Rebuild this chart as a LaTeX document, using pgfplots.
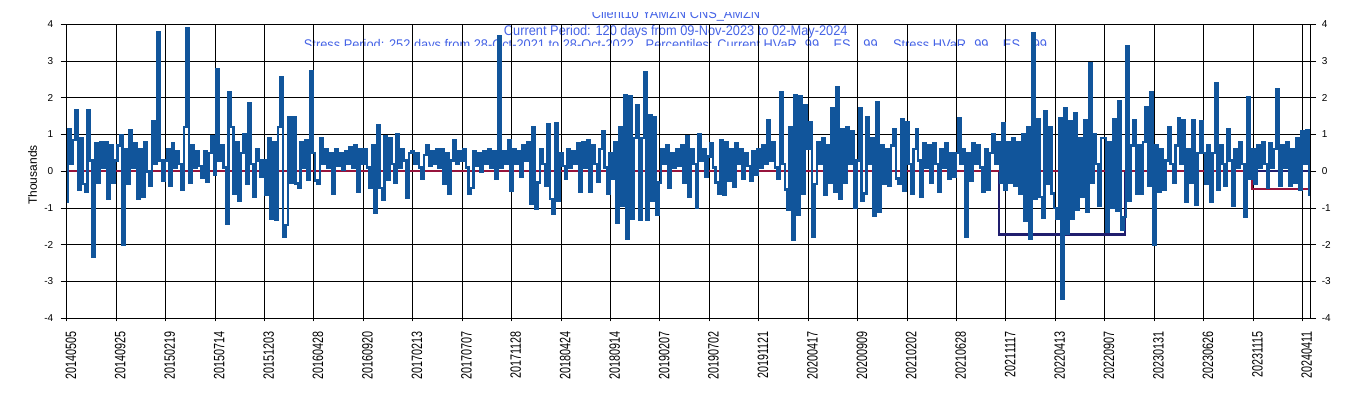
\documentclass[border=0pt]{standalone}
\usepackage{fontspec}
\setmainfont{Liberation Sans}
\usepackage{graphicx}
\usepackage{pgfplots}
\usepackage{pgfplotstable}
\usetikzlibrary{calc}
\pgfplotsset{compat=1.18}
\pgfdeclarelayer{bg}
\pgfsetlayers{bg,main}
\definecolor{pnlblue}{RGB}{17,85,155}
\definecolor{hvarred}{RGB}{150,20,60}
\definecolor{hvarnavy}{RGB}{32,30,110}
\definecolor{titleblue}{RGB}{70,100,230}
\newcommand{\xl}[1]{\scalebox{0.72}[1]{#1}}
\newcommand{\tf}{\fontsize{14}{16}\selectfont}

\pgfplotstableread[header=false,row sep=\\]{
-0.83\\ 1.15\\ 0.2\\ 0.85\\ 1.66\\ -0.49\\ 0.9\\ -0.35\\ -0.55\\ 1.66\\ 0.3\\ -2.32\\ 0.75\\ -0.3\\ 0.8\\ 0.1\\ 0.78\\ -0.76\\ 0.7\\ -0.3\\
0.3\\ 0.7\\ 0.98\\ -1.99\\ 0.6\\ -0.33\\ 1.13\\ 0.1\\ 0.75\\ -0.75\\ 0.6\\ -0.7\\ 0.78\\ 0.0\\ -0.38\\ 1.36\\ 0.2\\ 3.79\\ 0.3\\ -0.25\\
0.3\\ 0.6\\ -0.4\\ 0.75\\ 0.1\\ 0.55\\ 0.2\\ -0.5\\ 1.2\\ 3.9\\ -0.32\\ 0.7\\ 0.1\\ 0.55\\ 0.15\\ -0.17\\ 0.55\\ -0.28\\ 0.5\\ 0.95\\
-0.1\\ 2.77\\ 0.3\\ 0.7\\ 0.1\\ -1.42\\ 2.15\\ 1.2\\ -0.6\\ 0.8\\ -0.79\\ 0.5\\ 1.0\\ -0.33\\ 1.84\\ 0.2\\ -0.7\\ 0.6\\ 0.3\\ -0.15\\
0.3\\ -0.65\\ 0.9\\ -1.3\\ 0.8\\ -1.32\\ 1.2\\ 2.55\\ -1.79\\ -1.46\\ 1.46\\ -0.3\\ 1.48\\ -0.33\\ -0.45\\ 0.8\\ 0.1\\ 0.85\\ -0.23\\ 2.72\\
0.5\\ -0.25\\ -0.35\\ 0.9\\ 0.2\\ 0.6\\ 0.1\\ 0.5\\ -0.6\\ 0.6\\ 0.15\\ 0.5\\ 0.05\\ 0.55\\ 0.2\\ 0.65\\ 0.1\\ 0.7\\ -0.57\\ 0.6\\
0.2\\ 0.6\\ 0.1\\ -0.45\\ 0.7\\ -1.13\\ 1.25\\ -0.45\\ -0.78\\ 0.95\\ -0.22\\ 0.9\\ 0.2\\ -0.3\\ 1.0\\ 0.1\\ 0.6\\ 0.3\\ -0.72\\ 0.5\\
0.55\\ 0.2\\ 0.5\\ 0.1\\ -0.2\\ 0.45\\ 0.7\\ 0.15\\ 0.55\\ 0.2\\ 0.6\\ 0.1\\ 0.6\\ -0.35\\ 0.5\\ -0.61\\ 0.3\\ 0.84\\ 0.2\\ 0.55\\
0.3\\ 0.6\\ 0.1\\ -0.6\\ -0.45\\ 0.55\\ 0.15\\ 0.5\\ 0.0\\ 0.55\\ 0.2\\ 0.6\\ 0.1\\ 0.55\\ -0.2\\ 3.67\\ 0.1\\ 0.55\\ 0.2\\ 0.85\\
-0.52\\ 0.6\\ 0.2\\ 0.55\\ -0.15\\ 0.7\\ 0.3\\ 0.8\\ -0.88\\ 1.2\\ -1.02\\ -0.3\\ 0.6\\ 0.2\\ -0.4\\ 1.29\\ -0.75\\ -1.15\\ 1.3\\ -0.79\\
0.5\\ 0.15\\ -0.2\\ 0.6\\ 0.1\\ 0.55\\ 0.2\\ 0.75\\ -0.55\\ 0.8\\ 0.1\\ 0.85\\ -0.55\\ 0.7\\ 0.2\\ -0.28\\ 0.6\\ 1.09\\ 0.1\\ -0.6\\
0.5\\ -0.2\\ 0.8\\ -1.41\\ 1.2\\ -0.95\\ 2.07\\ -1.83\\ 2.03\\ -1.3\\ 0.9\\ 1.79\\ -1.31\\ 0.9\\ 2.69\\ -1.32\\ 1.52\\ -0.8\\ 1.48\\ -1.18\\
-0.3\\ 0.6\\ 0.2\\ 0.7\\ -0.45\\ 0.5\\ 0.1\\ 0.6\\ 0.15\\ 0.7\\ -0.3\\ 0.95\\ -0.7\\ 0.6\\ 0.2\\ -1.0\\ 1.0\\ 0.3\\ 0.6\\ -0.15\\
0.4\\ 0.75\\ 0.1\\ -0.3\\ -0.6\\ 0.85\\ -0.65\\ 0.8\\ -0.25\\ 0.6\\ -0.42\\ 0.75\\ 0.2\\ 0.6\\ -0.2\\ 0.5\\ 0.15\\ -0.25\\ 0.55\\ -0.1\\
0.6\\ 0.1\\ 0.7\\ 0.2\\ 1.39\\ 0.3\\ 0.8\\ 0.1\\ -0.2\\ 2.16\\ 0.2\\ -0.5\\ -1.04\\ 1.2\\ -1.86\\ 2.07\\ -1.18\\ 2.03\\ -0.6\\ 1.81\\
0.6\\ 1.34\\ -1.79\\ -0.35\\ 0.8\\ 0.2\\ 0.9\\ -0.65\\ 0.7\\ -0.3\\ 1.72\\ -0.55\\ 2.29\\ -0.75\\ 1.15\\ -0.3\\ 1.2\\ 0.2\\ 1.1\\ -0.99\\
0.3\\ 1.72\\ -0.8\\ -0.6\\ 1.47\\ 0.2\\ 0.9\\ -1.21\\ 1.89\\ -1.1\\ 0.7\\ -0.35\\ 0.6\\ -0.38\\ 0.7\\ 1.15\\ -0.2\\ -0.35\\ 1.41\\ -0.53\\
1.34\\ 0.2\\ -0.62\\ 0.6\\ 1.15\\ 0.3\\ -0.7\\ 0.75\\ 0.1\\ 0.7\\ -0.3\\ 0.75\\ 0.2\\ -0.55\\ 0.6\\ 0.1\\ 0.75\\ -0.2\\ 0.5\\ -0.15\\
0.5\\ 1.45\\ 0.2\\ 0.6\\ -1.79\\ 0.5\\ -0.25\\ 0.75\\ 0.2\\ 0.7\\ 0.1\\ -0.55\\ 0.6\\ -0.5\\ 0.5\\ 1.0\\ 0.2\\ 0.8\\ -0.3\\ 1.32\\
-0.5\\ 0.8\\ -0.3\\ 0.9\\ -0.4\\ 0.8\\ -0.6\\ 1.0\\ -1.35\\ 1.2\\ -1.83\\ 3.75\\ -0.75\\ 1.41\\ -0.7\\ -1.27\\ 1.63\\ -0.35\\ 1.2\\ -0.6\\
-1.0\\ -1.3\\ 1.45\\ -3.46\\ 1.72\\ -1.7\\ 1.37\\ -1.3\\ 1.57\\ -1.05\\ 0.9\\ -0.7\\ 1.4\\ -1.1\\ 2.95\\ -0.3\\ 1.0\\ 0.2\\ -0.95\\ 0.9\\
0.9\\ -1.65\\ 0.8\\ -1.0\\ 1.41\\ -1.08\\ 1.9\\ -1.58\\ -1.25\\ 3.4\\ -0.8\\ 0.7\\ 1.4\\ -0.6\\ 0.7\\ -0.6\\ 0.8\\ 1.75\\ -0.4\\ 2.16\\
-2.01\\ 0.7\\ -0.55\\ 0.6\\ -0.5\\ 0.3\\ 1.2\\ 0.2\\ -0.3\\ 0.7\\ 1.43\\ 0.2\\ 1.4\\ -0.83\\ 0.6\\ -0.3\\ 1.4\\ -0.92\\ 0.5\\ 1.35\\
0.5\\ -0.35\\ 0.7\\ -0.82\\ 0.5\\ 2.4\\ -0.5\\ 0.7\\ 0.2\\ -0.4\\ 1.15\\ 0.3\\ -0.93\\ 0.6\\ 0.1\\ 0.8\\ 0.2\\ -1.24\\ 2.01\\ -0.2\\
0.6\\ -0.35\\ 0.7\\ 0.1\\ 0.8\\ 0.2\\ -0.45\\ 0.75\\ 0.1\\ 0.6\\ 2.23\\ -0.4\\ 0.7\\ 0.1\\ 0.8\\ -0.38\\ 0.6\\ -0.3\\ 0.9\\ -0.5\\
1.1\\ 0.2\\ 1.12\\ -0.65\\
}\pnl

\begin{document}
\begin{tikzpicture}
\begin{axis}[
  name=main,
  scale only axis, width=1243.3pt, height=294pt,
  xmin=0, xmax=2515, ymin=-4, ymax=4,
  xtick={0,100,...,2500},
  xticklabels={\xl{20140505},\xl{20140925},\xl{20150219},\xl{20150714},\xl{20151203},\xl{20160428},\xl{20160920},\xl{20170213},\xl{20170707},\xl{20171128},\xl{20180424},\xl{20180914},\xl{20190207},\xl{20190702},\xl{20191121},\xl{20200417},\xl{20200909},\xl{20210202},\xl{20210628},\xl{20211117},\xl{20220413},\xl{20220907},\xl{20230131},\xl{20230626},\xl{20231115},\xl{20240411}},
  ytick={-4,-3,...,4},
  xtick pos=lower, ytick pos=left,
  tick align=outside,
  major tick length=6pt,
  xtick style={/pgfplots/major tick length=3pt},
  grid=major,
  major grid style={black, line width=1pt},
  axis line style={black, line width=1pt},
  every tick/.style={black, line width=1pt},
  /pgf/number format/assume math mode=true,
  tick label style={font=\fontsize{10}{12}\selectfont},
  xticklabel style={font=\fontsize{15}{16}\selectfont, inner sep=0pt, xshift=4.2pt, yshift=-7pt, rotate=90, anchor=east},
  yticklabel style={inner sep=0pt, anchor=east, xshift=-7.2pt},
]
\coordinate (SW) at (rel axis cs:0,0);
\addplot[hvarnavy, line width=2.2pt] coordinates {(0,0)(1886,0)(1886,-1.72)(2141,-1.72)(2141,0)(2515,0)};
\addplot[hvarred, line width=2pt] coordinates {(0,0)(2397,0)(2397,-0.47)(2515,-0.47)};
\addplot[pnlblue, line width=2.5pt, const plot mark mid] table[x expr=\coordindex*5, y index=0] {\pnl};
\end{axis}

\begin{axis}[
  at={(SW)}, anchor=south west,
  scale only axis, width=1243.3pt, height=294pt,
  xmin=0, xmax=2515, ymin=-4, ymax=4,
  axis x line=none, axis y line*=right,
  ytick={-4,-3,...,4},
  tick align=outside,
  major tick length=6pt,
  axis line style={black, line width=1pt},
  every tick/.style={black, line width=1pt},
  /pgf/number format/assume math mode=true,
  tick label style={font=\fontsize{10}{12}\selectfont},
  yticklabel style={inner sep=0pt, anchor=west, xshift=5.7pt},
]
\addplot[draw=none] coordinates {(0,0)};
\end{axis}

\begin{pgfonlayer}{bg}
\begin{scope}[shift={($(SW)+(-66.7pt,-79.7pt)$)}]
\begin{scope}
\clip (0pt,377.5pt) rectangle (1353pt,385pt);
\node[anchor=base, inner sep=0pt, text=titleblue, font=\tf] at (676pt,379.5pt) {\scalebox{0.915}[1]{Client10 YAMZN CNS\_AMZN}};
\end{scope}
\node[anchor=base, inner sep=0pt, text=titleblue, font=\tf] at (675.8pt,362.3pt) {\scalebox{0.915}[1]{Current Period: 120 days from 09-Nov-2023 to 02-May-2024}};
\begin{scope}
\clip (0pt,352.8pt) rectangle (1353pt,360pt);
\node[anchor=base, inner sep=0pt, text=titleblue, font=\tf] at (675.5pt,348.8pt) {\scalebox{0.915}[1]{Stress Period: 252 days from 28-Oct-2021 to 28-Oct-2022,\hspace{5pt} Percentiles: Current HVaR\hspace{5pt} 99,\hspace{8pt} ES\hspace{10pt} 99,\hspace{9pt} Stress HVaR\hspace{5pt} 99,\hspace{8pt} ES\hspace{10pt} 99}};
\end{scope}
\node[rotate=90, inner sep=0pt, font=\fontsize{12}{14}\selectfont] at (32.5pt,223pt) {Thousands};
\end{scope}
\end{pgfonlayer}

\pgfresetboundingbox
\path[use as bounding box] ($(SW)+(-66.7pt,-79.7pt)$) rectangle ($(SW)+(1286.3pt,318.3pt)$);
\end{tikzpicture}
\end{document}
